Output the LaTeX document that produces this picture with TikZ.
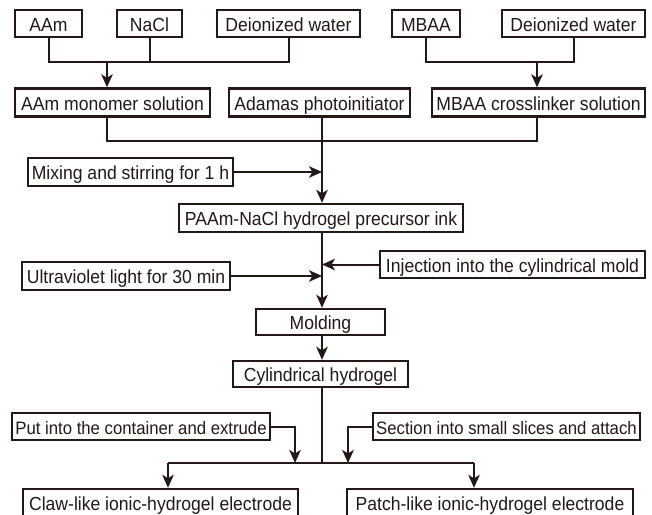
\documentclass[tikz,border=0pt]{standalone}
\usepackage{fontspec}
\setmainfont{Liberation Sans}[FakeStretch=0.93]
\usetikzlibrary{arrows.meta}
\definecolor{ink}{HTML}{231815}
\begin{document}
\begin{tikzpicture}[>={Stealth[length=13pt,width=11.5pt,inset=3.5pt]}, x=1pt, y=-1pt, ink, line width=2pt,
		box/.style={draw, line width=2.4pt, inner sep=0pt, minimum height=27pt, text height=15.4pt, text depth=0pt, font=\fontsize{18.9}{21}\selectfont},
		smalltext/.style={font=\fontsize{18}{21}\selectfont}]
		\useasboundingbox (0,0) rectangle (652,514);
		% raw materials
		\node[box, minimum width=67] (aam) at (48.5,23.5) {AAm};
		\node[box, minimum width=65] (nacl) at (149.5,23.5) {NaCl};
		\node[box, minimum width=143] (water1) at (288.5,23.5) {Deionized water};
		\node[box, minimum width=68] (mbaa) at (426,23.5) {MBAA};
		\node[box, minimum width=143] (water2) at (573.5,23.5) {Deionized water};
		% solutions
		\node[box, minimum width=195, minimum height=28] (monomer) at (112.5,102.5) {AAm monomer solution};
		\node[box, minimum width=181, minimum height=28] (photo) at (319.5,102.5) {Adamas photoinitiator};
		\node[box, minimum width=213, minimum height=28] (crosslinker) at (538.5,102.5) {MBAA crosslinker solution};
		% process
		\node[box, minimum width=205, minimum height=28] (mixing) at (130.5,172) {Mixing and stirring for 1 h};
		\node[box, minimum width=284, minimum height=28] (paam) at (321,218) {PAAm-NaCl hydrogel precursor ink};
		\node[box, minimum width=265] (injection) at (512.5,264.5) {Injection into the cylindrical mold};
		\node[box, minimum width=208, minimum height=28] (uv) at (126,276) {Ultraviolet light for 30 min};
		\node[box, minimum width=129, minimum height=26] (molding) at (320.5,322) {Molding};
		\node[box, minimum width=175, minimum height=26] (cylinder) at (320.5,374) {Cylindrical hydrogel};
		\node[box, smalltext, minimum width=258] (put) at (141,426.5) {Put into the container and extrude};
		\node[box, smalltext, minimum width=267] (section) at (506.5,426.5) {Section into small slices and attach};
		\node[box, minimum width=275, minimum height=28] (claw) at (160.5,503) {Claw-like ionic-hydrogel electrode};
		\node[box, minimum width=286, minimum height=28] (patch) at (490,503) {Patch-like ionic-hydrogel electrode};
		% junctions
		\coordinate (j1) at (107,62);
		\coordinate (j2) at (537,62);
		\coordinate (j3) at (322,141);
		\coordinate (j4) at (322,463);
		\coordinate (j5) at (168,463);
		\coordinate (j6) at (474,463);
		\coordinate (j7) at (295,463);
		\coordinate (j8) at (348,463);
		% connectors
		\draw (aam.south) |- (j1) -| (water1.south);
		\draw (nacl.south) -- (nacl.south |- j1);
		\draw[->] (j1) -- (monomer.north -| j1);
		\draw (mbaa.south) |- (j2) -| (water2.south);
		\draw[->] (j2) -- (crosslinker.north -| j2);
		\draw (monomer.south -| j1) |- (j3) -| (crosslinker.south -| j2);
		\draw[->] (photo.south -| j3) -- (paam.north -| j3);
		\draw[->] (mixing.east) -- (mixing.east -| j3);
		\draw[->] (paam.south -| j3) -- (molding.north -| j3);
		\draw[->] (injection.west) -- (injection.west -| j3);
		\draw[->] (uv.east) -- (uv.east -| j3);
		\draw[->] (molding.south -| j3) -- (cylinder.north -| j3);
		\draw (cylinder.south -| j4) -- (j4);
		\draw (j5) -- (j6);
		\draw[->] (j5) -- (claw.north -| j5);
		\draw[->] (j6) -- (patch.north -| j6);
		\draw[->] (put.east) -| (j7);
		\draw[->] (section.west) -| (j8);
\end{tikzpicture}
\end{document}
